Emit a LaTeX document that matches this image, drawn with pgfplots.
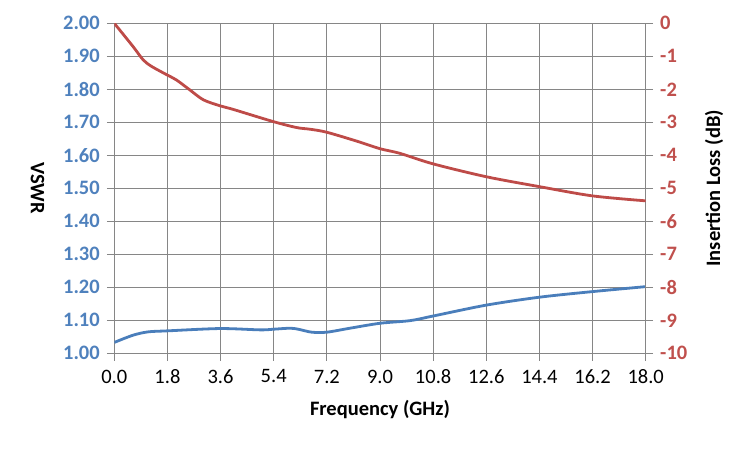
\documentclass[border=0pt]{standalone}
\usepackage{fontspec}
\setmainfont{Carlito}
\usepackage{pgfplots}
\pgfplotsset{compat=1.18}
\definecolor{vblue}{HTML}{4A7EBB}
\definecolor{ired}{HTML}{BE4B48}
\definecolor{lblue}{HTML}{4F81BD}
\definecolor{lred}{HTML}{C0504D}
\definecolor{gridgray}{HTML}{868686}
\begin{document}
\fontsize{20.5bp}{24bp}\selectfont
\begin{tikzpicture}
\useasboundingbox (-114.3bp,-96.7bp) rectangle (635.7bp,353.3bp);
\pgfplotsset{
  common/.style={
    at={(0,0)}, anchor=south west,
    scale only axis, width=531.4bp, height=330bp,
    xmin=0, xmax=18,
    axis line style={gridgray, line width=0.75bp, -},
    tick style={gridgray, line width=0.75bp},
    tick align=outside, major tick length=7.5bp,
    /pgf/number format/assume math mode=true,
    label style={font=\fontsize{20.5bp}{24bp}\selectfont\bfseries},
    tick label style={font=\fontsize{20.5bp}{24bp}\selectfont},
  }
}
\begin{axis}[common,
  ymin=1, ymax=2,
  axis x line*=bottom, axis y line*=left,
  xtick={0,1.8,3.6,5.4,7.2,9,10.8,12.6,14.4,16.2,18},
  ytick={1,1.1,1.2,1.3,1.4,1.5,1.6,1.7,1.8,1.9,2},
  xticklabel style={yshift=-2bp, /pgf/number format/fixed, /pgf/number format/fixed zerofill, /pgf/number format/precision=1},
  yticklabel style={color=lblue, font=\fontsize{20.5bp}{24bp}\selectfont\bfseries,
    /pgf/number format/fixed, /pgf/number format/fixed zerofill, /pgf/number format/precision=2},
  grid=major, major grid style={gridgray, line width=0.75bp},
  xlabel={Frequency (GHz)},
  xlabel style={at={(axis description cs:0.5,-0.1718)}, anchor=center},
  ylabel={VSWR},
  ylabel style={at={(axis description cs:-0.1445,0.5)}, anchor=center, rotate=180},
]
\addplot[vblue, line width=2.8bp, smooth, tension=0.5] coordinates {
(0,1.033) (0.64,1.055) (1.15,1.065) (1.8,1.068) (3.58,1.075) (4.94,1.071)
(5.39,1.073) (5.95,1.076) (6.23,1.073) (6.69,1.064) (7.2,1.064) (7.98,1.076)
(9.0,1.091) (10.02,1.099) (10.8,1.113) (12.6,1.146) (14.4,1.170) (16.2,1.187) (18,1.202)
};
\end{axis}
\begin{axis}[common,
  ymin=-10, ymax=0,
  axis x line=none, axis y line*=right,
  ytick={-10,-9,-8,-7,-6,-5,-4,-3,-2,-1,0},
  yticklabel style={color=lred, font=\fontsize{20.5bp}{24bp}\selectfont\bfseries},
  ylabel={Insertion Loss (dB)},
  ylabel style={at={(axis description cs:1.1285,0.5)}, anchor=center, rotate=0},
]
\addplot[ired, line width=2.8bp, smooth, tension=0.5] coordinates {
(0,0) (0.64,-0.71) (0.98,-1.11) (1.27,-1.31) (1.8,-1.57) (2.11,-1.72) (2.56,-2.02)
(3.02,-2.32) (3.58,-2.50) (4.03,-2.61) (5.39,-2.98) (6.18,-3.16) (6.63,-3.21)
(7.19,-3.30) (8.21,-3.57) (9.0,-3.80) (9.67,-3.94) (10.8,-4.26) (12.6,-4.65)
(14.4,-4.95) (16.2,-5.23) (18,-5.38)
};
\end{axis}
\end{tikzpicture}
\end{document}
